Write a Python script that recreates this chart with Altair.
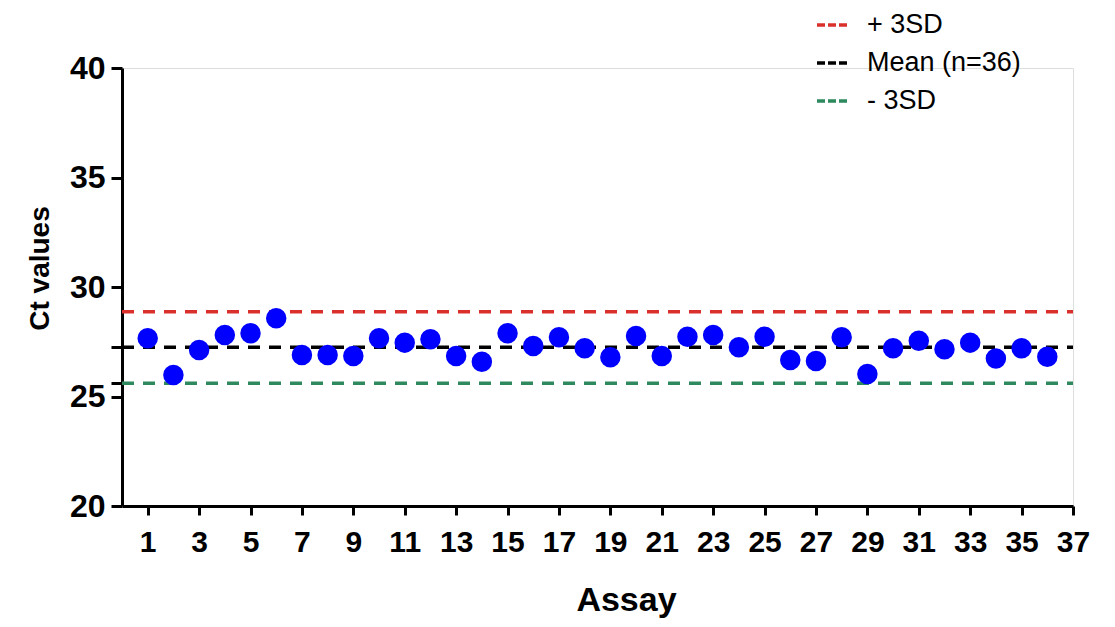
import altair as alt
import pandas as pd

assay = list(range(1, 37))
ct = [27.66, 25.98, 27.12, 27.81, 27.89, 28.57, 26.89, 26.89, 26.85, 27.66,
      27.46, 27.61, 26.85, 26.59, 27.89, 27.31, 27.70, 27.20, 26.79, 27.76,
      26.85, 27.73, 27.81, 27.25, 27.73, 26.67, 26.62, 27.70, 26.03, 27.20,
      27.55, 27.16, 27.46, 26.74, 27.20, 26.82]

line_names = ["+ 3SD", "\u00a0Mean (n=36)", "- 3SD"]
line_values = [28.87, 27.25, 25.60]
line_colors = ["#d9302c", "#000000", "#2e8a5e"]

x_ticks = list(range(1, 38, 2))
y_ticks = [20, 25, 25.60, 27.25, 30, 35, 40]

points = pd.DataFrame({"assay": assay, "ct": ct})
lines = pd.DataFrame({"name": line_names, "value": line_values,
                      "x0": [0] * 3, "x1": [37] * 3})

FONT = "Liberation Sans"

x_scale = alt.Scale(domain=[0, 37], nice=False, zero=False)
y_scale = alt.Scale(domain=[20, 40], nice=False, zero=False)

x_axis = alt.Axis(values=x_ticks, title="Assay", grid=False,
                  labelFont=FONT, labelFontSize=30, labelFontWeight="bold",
                  labelColor="black", labelPadding=12,
                  labelFlush=False, labelOverlap=False,
                  tickSize=9, tickWidth=3, tickColor="black",
                  domainWidth=3, domainColor="black",
                  titleFont=FONT, titleFontSize=34, titleFontWeight="bold",
                  titleColor="black", titleX=504, titleY=94,
                  titleBaseline="middle", titleAlign="center")
y_axis = alt.Axis(values=y_ticks, title="Ct values", grid=False,
                  labelExpr="datum.value % 5 == 0 ? datum.label : ''",
                  labelFont=FONT, labelFontSize=32, labelFontWeight="bold",
                  labelColor="black", labelPadding=6,
                  labelFlush=False, labelOverlap=False,
                  tickSize=11, tickWidth=3, tickColor="black",
                  domainWidth=3, domainColor="black",
                  titleFont=FONT, titleFontSize=28, titleFontWeight="bold",
                  titleColor="black", titleX=-82, titleY=200,
                  titleBaseline="middle", titleAlign="center", titleAngle=-90)

rules = alt.Chart(lines).mark_rule(strokeWidth=3.5, strokeDash=[12, 9]).encode(
    x=alt.X("x0:Q", scale=x_scale, axis=x_axis),
    x2="x1:Q",
    y=alt.Y("value:Q", scale=y_scale, axis=y_axis),
    color=alt.Color("name:N",
                    scale=alt.Scale(domain=line_names, range=line_colors),
                    legend=alt.Legend(title=None, orient="none",
                                      legendX=693, legendY=-60,
                                      symbolType="stroke", symbolSize=900,
                                      symbolStrokeWidth=3.5, symbolDash=[8, 3],
                                      labelFont=FONT, labelFontSize=27,
                                      labelColor="black", labelOffset=18,
                                      labelLimit=400, rowPadding=8)),
)

dots = alt.Chart(points).mark_circle(size=420, color="#0000ff", opacity=1).encode(
    x=alt.X("assay:Q", scale=x_scale),
    y=alt.Y("ct:Q", scale=y_scale),
)

chart = alt.layer(rules, dots).properties(
    width=951, height=438,
    autosize=alt.AutoSizeParams(type="none"),
    padding={"left": 114, "top": 60, "right": 34, "bottom": 113},
).configure_view(stroke=None).configure(background="white")

chart.save("out.html", embed_options={"renderer": "svg", "actions": False})
